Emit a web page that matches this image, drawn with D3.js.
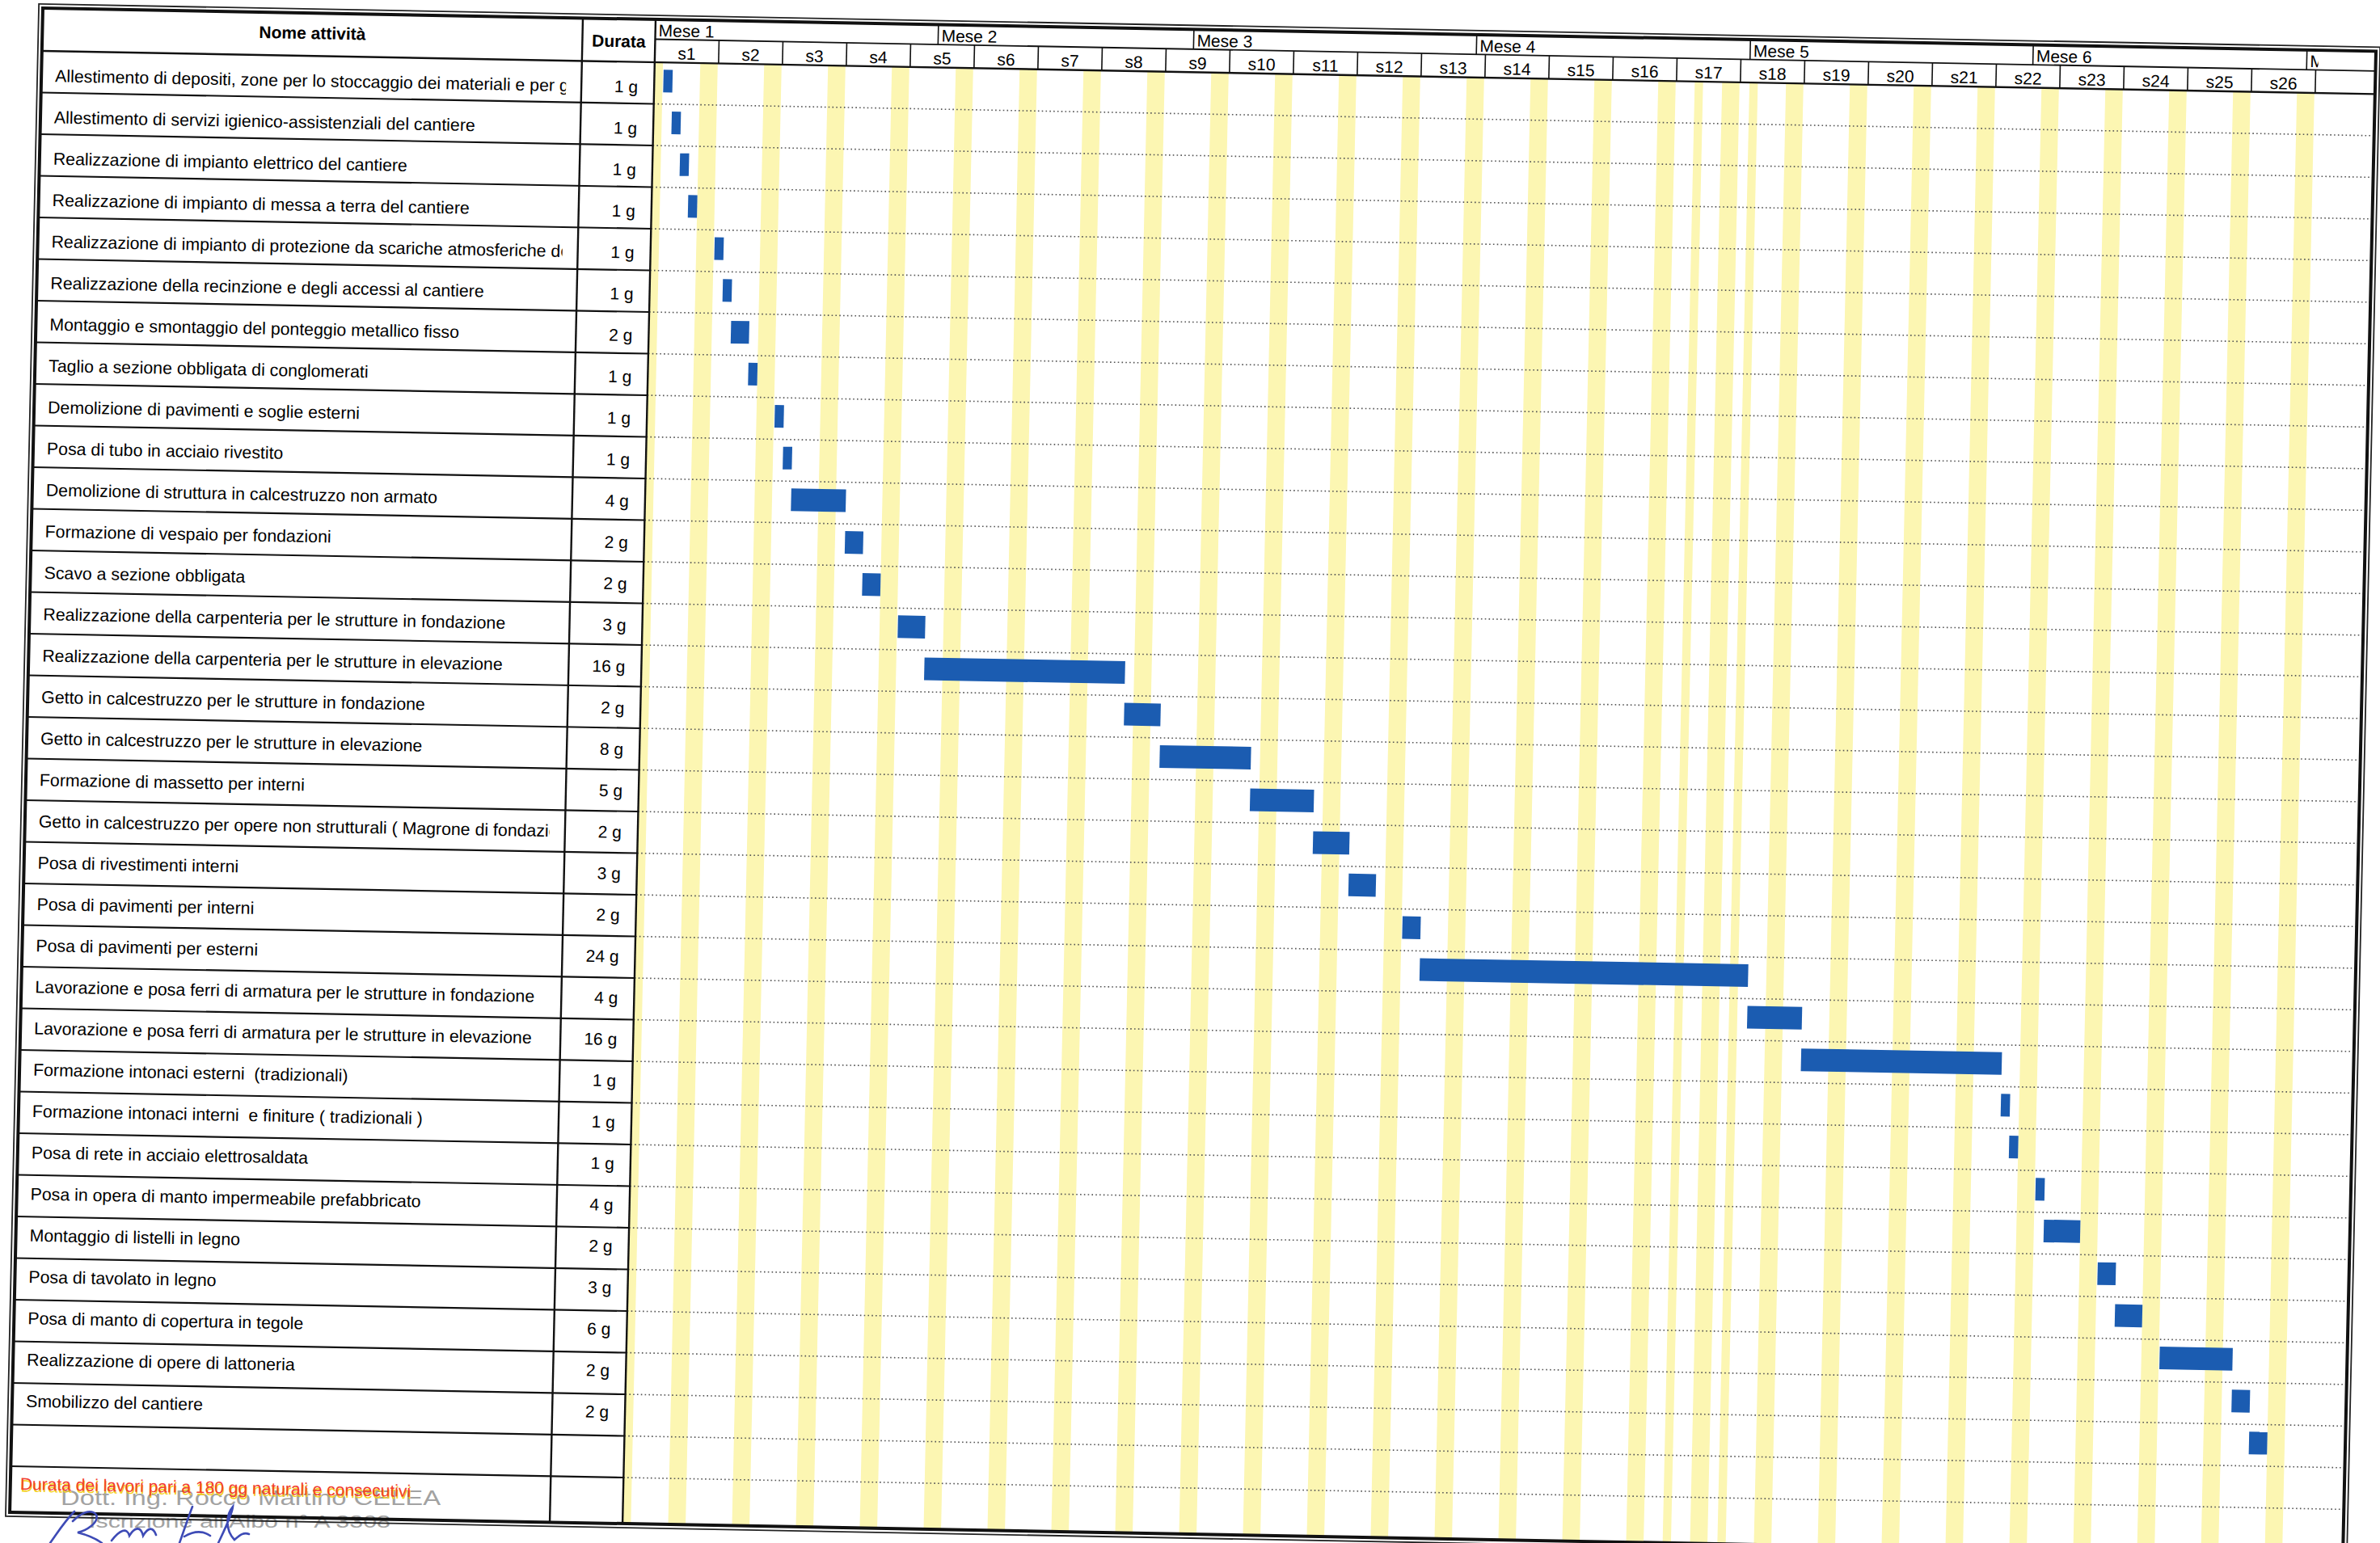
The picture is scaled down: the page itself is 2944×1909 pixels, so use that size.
<!DOCTYPE html>
<html>
<head>
<meta charset="utf-8">
<title>Cronoprogramma dei lavori</title>
<script src="https://d3js.org/d3.v7.min.js"></script>
<style>
  body { margin: 0; background: #fff; }
  svg text { font-family: "Liberation Sans", Arial, sans-serif; }
</style>
</head>
<body>
<svg width="2944" height="1909"></svg>
<script>
// activities, in table order
const taskNames = [
  "Allestimento di depositi, zone per lo stoccaggio dei materiali e per gli impianti fissi",
  "Allestimento di servizi igienico-assistenziali del cantiere",
  "Realizzazione di impianto elettrico del cantiere",
  "Realizzazione di impianto di messa a terra del cantiere",
  "Realizzazione di impianto di protezione da scariche atmosferiche delle masse metalliche",
  "Realizzazione della recinzione e degli accessi al cantiere",
  "Montaggio e smontaggio del ponteggio metallico fisso",
  "Taglio a sezione obbligata di conglomerati",
  "Demolizione di pavimenti e soglie esterni",
  "Posa di tubo in acciaio rivestito",
  "Demolizione di struttura in calcestruzzo non armato",
  "Formazione di vespaio per fondazioni",
  "Scavo a sezione obbligata",
  "Realizzazione della carpenteria per le strutture in fondazione",
  "Realizzazione della carpenteria per le strutture in elevazione",
  "Getto in calcestruzzo per le strutture in fondazione",
  "Getto in calcestruzzo per le strutture in elevazione",
  "Formazione di massetto per interni",
  "Getto in calcestruzzo per opere non strutturali ( Magrone di fondazione )",
  "Posa di rivestimenti interni",
  "Posa di pavimenti per interni",
  "Posa di pavimenti per esterni",
  "Lavorazione e posa ferri di armatura per le strutture in fondazione",
  "Lavorazione e posa ferri di armatura per le strutture in elevazione",
  "Formazione intonaci esterni  (tradizionali)",
  "Formazione intonaci interni  e finiture ( tradizionali )",
  "Posa di rete in acciaio elettrosaldata",
  "Posa in opera di manto impermeabile prefabbricato",
  "Montaggio di listelli in legno",
  "Posa di tavolato in legno",
  "Posa di manto di copertura in tegole",
  "Realizzazione di opere di lattoneria",
  "Smobilizzo del cantiere"
];
// working days
const durations = [1,1,1,1,1,1,2,1,1,1,4,2,2,3,16,2,8,5,2,3,2,24,4,16,1,1,1,4,2,3,6,2,2];
// bar start / end, in calendar days from the first Monday
const startDay = [1,2,3,4,7,8,9,11,14,15,16,22,24,28,31,53,57,67,74,78,84,86,122,128,150,151,154,155,161,163,168,176,178];
const endDay   = [2,3,4,5,8,9,11,12,15,16,22,24,26,31,53,57,67,74,78,81,86,122,128,150,151,152,155,159,163,166,176,178,180];

const weekLabels = ["s1","s2","s3","s4","s5","s6","s7","s8","s9","s10","s11","s12","s13",
                    "s14","s15","s16","s17","s18","s19","s20","s21","s22","s23","s24","s25","s26"];
const monthLabels = ["Mese 1","Mese 2","Mese 3","Mese 4","Mese 5","Mese 6","Mese 7"];
const monthStart = [0, 31, 59, 90, 120, 151, 181];
const holidays = [0, 114, 120];

const footerNote = "Durata dei lavori pari a 180 gg naturali e consecutivi";

const svg = d3.select("svg");

// sheet size (scanned page is slightly tilted)
const W = 2886, H = 1861, headerH = 53, rowH = 51.5;
const nameW = 668, ganttX = 758;
const nRows = 35;

const x = d3.scaleLinear().domain([0, 182]).range([ganttX, ganttX + 26 * 79]);
const rowTop = i => headerH + i * rowH;
// text baseline inside a row (the printed text creeps up a little row after row)
const textY = i => rowTop(i) + 38 - 0.27 * i;

// stamp behind the table
const stamp = svg.append("g").attr("fill", "#a2a2a2");
stamp.append("text").attr("x", 75).attr("y", 1862).attr("font-size", 26)
  .attr("textLength", 470).attr("lengthAdjust", "spacingAndGlyphs")
  .text("Dott. Ing. Rocco Martino CELEA");
stamp.append("text").attr("x", 110).attr("y", 1890).attr("font-size", 22)
  .attr("textLength", 373).attr("lengthAdjust", "spacingAndGlyphs")
  .text("Iscrizione all'Albo n° A 3308");

const sheet = svg.append("g").attr("transform", "matrix(1,0.0185,-0.022,1,53,10)");

const defs = svg.append("defs");
defs.append("clipPath").attr("id", "nameClip").append("rect")
  .attr("x", 0).attr("y", 0).attr("width", 649).attr("height", H);
defs.append("clipPath").attr("id", "monthClip").append("rect")
  .attr("x", ganttX).attr("y", 0).attr("width", x(182) + 3 - ganttX).attr("height", 25);

// weekend and holiday stripes
const nonWork = weekLabels.map((s, i) => ({d: 7 * i + 5, n: 2}))
  .concat(holidays.map(d => ({d: d, n: 1})));
sheet.append("g").selectAll("rect").data(nonWork).join("rect")
  .attr("x", d => x(d.d))
  .attr("width", d => x(d.d + d.n) - x(d.d) - 1)
  .attr("y", headerH)
  .attr("height", H - headerH)
  .attr("fill", "#fcf6b2");

// row separators
const seps = d3.range(1, nRows);
sheet.append("g").selectAll("line").data(seps).join("line")
  .attr("x1", ganttX).attr("x2", W)
  .attr("y1", rowTop).attr("y2", rowTop)
  .attr("stroke", "#555").attr("stroke-width", 1.6)
  .attr("stroke-dasharray", "1.6,3.2");
sheet.append("g").selectAll("line").data(seps).join("line")
  .attr("x1", 0).attr("x2", ganttX)
  .attr("y1", rowTop).attr("y2", rowTop)
  .attr("stroke", "#111").attr("stroke-width", 2.2);

// bars
sheet.append("g").selectAll("rect").data(taskNames).join("rect")
  .attr("x", (d, i) => x(startDay[i]))
  .attr("width", (d, i) => x(endDay[i]) - x(startDay[i]))
  .attr("y", (d, i) => rowTop(i) + 9)
  .attr("height", 28)
  .attr("fill", "#1b5cb1");

// header grid
const hdr = sheet.append("g").attr("stroke", "#111");
hdr.append("line").attr("x1", 0).attr("x2", W).attr("y1", headerH).attr("y2", headerH).attr("stroke-width", 2.4);
hdr.append("line").attr("x1", ganttX).attr("x2", W).attr("y1", 24.5).attr("y2", 24.5).attr("stroke-width", 1.8);
hdr.selectAll(".mline").data(monthStart.slice(1)).join("line")
  .attr("x1", d => x(d)).attr("x2", d => x(d))
  .attr("y1", 0).attr("y2", 24.5).attr("stroke-width", 1.6);
hdr.selectAll(".wline").data(d3.range(1, 27)).join("line")
  .attr("x1", d => x(7 * d)).attr("x2", d => x(7 * d))
  .attr("y1", 24.5).attr("y2", headerH).attr("stroke-width", 1.6);
[nameW, ganttX].forEach(u => {
  hdr.append("line").attr("x1", u).attr("x2", u).attr("y1", 0).attr("y2", H).attr("stroke-width", 2.4);
});

// header texts
sheet.append("text").attr("x", nameW / 2).attr("y", 32).attr("text-anchor", "middle")
  .attr("font-size", 21).attr("font-weight", "bold").text("Nome attività");
sheet.append("text").attr("x", (nameW + ganttX) / 2).attr("y", 35).attr("text-anchor", "middle")
  .attr("font-size", 21).attr("font-weight", "bold").text("Durata");

sheet.append("g").attr("clip-path", "url(#monthClip)")
  .selectAll("text").data(monthLabels).join("text")
  .attr("x", (d, i) => x(monthStart[i]) + 4)
  .attr("y", 21)
  .attr("font-size", 21)
  .text(d => d);

sheet.append("g").selectAll("text").data(weekLabels).join("text")
  .attr("x", (d, i) => x(7 * i + 3.5))
  .attr("y", 49)
  .attr("text-anchor", "middle")
  .attr("font-size", 21)
  .text(d => d);

// table texts
sheet.append("g").attr("clip-path", "url(#nameClip)")
  .selectAll("text").data(taskNames).join("text")
  .attr("x", 17)
  .attr("y", (d, i) => textY(i))
  .attr("font-size", 21.3)
  .attr("xml:space", "preserve")
  .text(d => d);

sheet.append("g").selectAll("text").data(durations).join("text")
  .attr("x", 738)
  .attr("y", (d, i) => textY(i))
  .attr("text-anchor", "end")
  .attr("font-size", 21)
  .text(d => d + " g");

// footer note
const fy = textY(nRows - 1);
sheet.append("text").attr("x", 13).attr("y", fy + 2.5).attr("font-size", 21)
  .attr("fill", "#f4d11c").text(footerNote);
sheet.append("text").attr("x", 12).attr("y", fy).attr("font-size", 21)
  .attr("fill", "#f23d2c").text(footerNote);

// frame
sheet.append("rect").attr("x", 0).attr("y", 0).attr("width", W).attr("height", H)
  .attr("fill", "none").attr("stroke", "#111").attr("stroke-width", 4);
sheet.append("rect").attr("x", -5).attr("y", -5).attr("width", W + 10).attr("height", H + 10)
  .attr("fill", "none").attr("stroke", "#222").attr("stroke-width", 1.8);

// signature
svg.append("path")
  .attr("d", "M62 1909 C72 1895 80 1882 92 1870" +
             " M90 1882 C100 1872 112 1866 119 1874 C123 1884 106 1894 96 1896 C108 1899 118 1903 126 1909" +
             " M138 1906 C148 1893 157 1889 160 1900 C166 1890 174 1887 177 1900 C183 1890 189 1888 193 1899" +
             " M222 1909 C227 1895 232 1880 238 1864" +
             " M228 1901 C240 1894 250 1893 260 1900" +
             " M270 1909 C279 1890 287 1874 288 1864 C281 1872 277 1891 290 1905 C296 1900 301 1895 308 1898")
  .attr("fill", "none").attr("stroke", "#3e4bb6").attr("stroke-width", 2.6)
  .attr("stroke-linecap", "round");
</script>
</body>
</html>
